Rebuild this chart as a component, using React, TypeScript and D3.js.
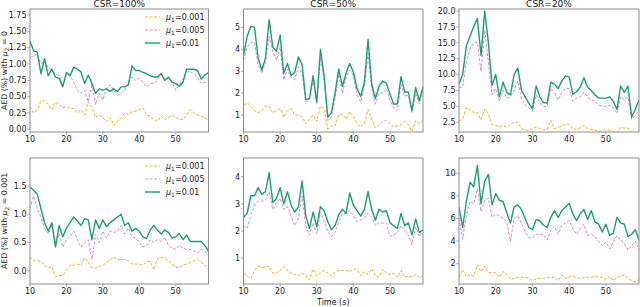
import * as d3 from "d3";

// time axis (s)
const times = [10, 11, 12, 13, 14, 15, 16, 17, 18, 19, 20, 21, 22, 23, 24, 25, 26, 27, 28, 29,
  30, 31, 32, 33, 34, 35, 36, 37, 38, 39, 40, 41, 42, 43, 44, 45, 46, 47, 48, 49,
  50, 51, 52, 53, 54, 55, 56, 57, 58, 59];

const titles = ["CSR=100%", "CSR=50%", "CSR=20%"];
const mu1Labels = ["0.001", "0.005", "0.01"];
const mu2Labels = ["0", "0.001"];
const xTicks = [10, 20, 30, 40, 50];

// row 1: mu2 = 0
const r0c0_001 = [0.35,0.25,0.3,0.43,0.44,0.38,0.3,0.42,0.38,0.33, 0.35,0.32,0.32,0.25,0.3,0.22,0.42,0.33,0.18,0.22, 0.18,0.12,0.18,0.06,0.12,0.18,0.25,0.23,0.27,0.28, 0.3,0.33,0.22,0.2,0.15,0.12,0.2,0.15,0.18,0.22, 0.18,0.15,0.15,0.22,0.3,0.25,0.22,0.2,0.17,0.15];
const r0c0_005 = [1.1,1.12,1.15,1.0,1.05,0.95,0.9,0.85,0.82,0.67, 0.85,0.82,0.72,0.6,0.55,0.6,0.42,0.7,0.38,0.55, 0.45,0.62,0.68,0.6,0.52,0.55,0.6,0.72,0.8,0.75, 0.78,0.72,0.65,0.7,0.7,0.75,0.87,0.75,0.78,0.72, 0.6,0.68,0.78,0.88,0.88,0.85,0.8,0.7,0.72,0.72];
const r0c0_01 = [1.35,1.2,1.18,0.85,1.08,0.82,0.92,0.8,0.78,0.65, 0.87,0.82,0.95,0.92,0.88,0.7,0.83,0.7,0.55,0.62, 0.6,0.62,0.58,0.62,0.58,0.65,0.65,0.68,0.97,0.9, 0.9,0.87,0.85,0.82,0.8,0.8,0.85,0.75,0.8,0.72, 0.7,0.66,0.72,0.92,0.92,0.92,0.9,0.77,0.83,0.87];

const r0c1_001 = [1.45,1.55,1.4,1.2,1.1,1.2,1.4,1.4,1.1,1.2, 1.3,0.9,1.2,1.3,1.0,1.0,0.9,0.6,0.8,1.0, 0.7,1.4,1.3,0.35,0.5,0.5,1.0,1.05,0.8,1.15, 0.9,0.6,0.45,0.6,1.25,0.8,0.4,0.55,0.7,0.75, 0.6,0.45,0.5,0.55,0.7,0.55,0.25,0.75,0.6,0.75];
const r0c1_005 = [3.5,4.1,4.3,4.3,3.3,2.9,3.4,4.6,3.9,3.5, 4.1,2.6,3.1,2.7,2.6,3.2,2.9,1.6,1.7,2.6, 1.5,3.6,2.6,0.75,0.9,1.8,2.85,2.0,2.7,3.05, 2.8,1.9,1.6,2.3,3.8,2.2,1.5,2.0,2.0,2.2, 1.7,1.3,1.2,2.4,1.85,1.9,1.1,2.0,1.5,2.1];
const r0c1_01 = [3.7,4.6,5.05,5.0,3.6,3.05,3.6,5.35,4.1,3.9, 4.65,2.9,3.35,2.8,2.95,3.65,3.3,1.7,1.75,2.8, 1.6,4.0,2.8,0.9,1.1,2.0,3.1,2.3,2.9,3.35, 2.95,2.2,1.85,2.5,4.45,2.4,1.75,2.3,2.55,2.45, 1.95,1.5,1.5,2.75,2.05,2.05,1.2,2.25,1.65,2.3];

const r0c2_001 = [2.7,3,4.8,4.5,4,4,2.9,4.6,3.8,2.1, 2.0,1.8,2.0,1.7,2.2,2.5,2.5,1.5,1.3,1.2, 1.5,1.8,1.5,1.3,1.4,2.8,1.5,1.7,1.9,2.2, 2.2,1.5,1.4,1.6,2.0,1.5,1.4,1.2,1.1,1.1, 1.3,1.3,1.0,0.8,1.7,1.6,1.6,0.9,0.7,1.2];
const r0c2_005 = [8,8,12,14,15,15,10.5,17,12,6.8, 7.8,5.8,7.5,6.3,6.5,7.5,9,6.2,5.2,4.8, 4.2,6.8,5.5,5,5,7.8,7.2,6,7.2,7.8, 7.8,5.8,6.3,6.5,7.2,6.5,6.0,5.8,5.2,5.0, 5.0,5.2,4.8,3.9,6.5,6.0,6.5,3.0,3.5,4.5];
const r0c2_01 = [8.5,10,14.5,16,17.5,18.8,13,20,15,8.3, 10,6.5,8.8,7.2,6.8,10,11,7.5,6.5,5.5, 4.6,8.2,6.5,5.6,5.5,8.8,8.5,7.8,9,9.8, 9.6,6.9,7.3,8,9.5,8,7.5,6.8,6.3,6.3, 6.3,6.5,5.8,4.5,8.2,7.2,8.2,3.3,4.5,6.0];

// row 2: mu2 = 0.001
const r1c0_001 = [0.25,0.18,0.18,0.17,0.1,0.05,0.08,-0.1,-0.08,-0.08, 0.0,0.1,0.1,0.12,0.1,0.23,0.15,0.05,0.05,0.08, 0.1,0.15,0.2,0.24,0.2,0.2,0.2,0.18,0.12,0.12, 0.12,0.1,0.16,0.17,0.02,0.22,0.24,0.22,0.18,0.12, 0.06,0.06,0.1,0.12,0.15,0.18,0.2,0.15,0.1,0.03];
const r1c0_005 = [1.1,1.32,1.1,0.95,0.75,0.65,0.8,0.48,0.65,0.42, 0.55,0.6,0.7,0.55,0.42,0.5,0.55,0.2,0.65,0.5, 0.7,0.58,0.7,0.68,0.7,0.8,0.65,0.75,0.6,0.58, 0.5,0.42,0.45,0.55,0.5,0.55,0.52,0.6,0.45,0.4, 0.38,0.45,0.4,0.38,0.38,0.35,0.32,0.38,0.35,0.27];
const r1c0_01 = [1.48,1.42,1.35,1.1,0.85,0.7,0.85,0.42,0.8,0.6, 0.75,0.85,0.95,0.88,0.8,0.92,0.9,0.55,0.9,0.75, 0.9,0.78,0.85,0.9,0.95,1.0,0.8,0.85,0.7,0.75, 0.7,0.6,0.57,0.72,0.8,0.72,0.65,0.72,0.68,0.58, 0.6,0.66,0.55,0.63,0.52,0.52,0.52,0.52,0.45,0.35];

const r1c1_001 = [0.45,0.35,0.25,0.55,0.7,0.65,0.7,0.7,0.45,0.45, 0.55,0.7,0.55,0.45,0.4,0.35,0.45,0.35,0.2,0.6, 0.35,0.45,0.55,0.45,0.35,0.5,0.55,0.55,0.55,0.5, 0.6,0.6,0.35,0.5,0.4,0.6,0.35,0.3,0.6,0.45, 0.4,0.45,0.3,0.55,0.3,0.35,0.3,0.4,0.3,0.35];
const r1c1_005 = [2.2,2.1,2.6,2.95,3.1,3.1,3.15,3.45,2.8,3.05, 3.2,2.8,2.9,2.55,2.2,2.5,3.3,2.2,1.85,2.3, 1.9,2.7,2.35,2.0,1.8,1.95,2.35,2.65,2.65,2.75, 2.55,2.35,2.4,2.5,2.65,2.5,2.2,2.3,2.3,2.3, 1.8,1.85,1.95,2.2,2.0,1.85,1.5,2.15,1.8,2.0];
const r1c1_01 = [2.5,2.65,3.3,3.3,3.6,3.35,3.45,4.15,3.05,3.2, 3.6,3.0,3.45,2.95,2.7,2.9,3.85,2.55,2.1,2.7, 2.15,2.9,2.75,2.35,2.05,2.2,2.6,2.8,2.65,3.4, 2.95,2.75,2.55,2.8,3.45,2.8,2.4,2.8,2.7,2.75, 2.3,2.2,2.1,2.65,2.2,2.3,1.85,2.45,1.95,2.05];

const r1c2_001 = [0.8,1.5,0.8,1.0,0.9,1.9,1.3,1.8,1.2,1.2, 1.2,0.8,1.3,1.1,0.6,0.7,0.8,0.8,0.8,0.7, 0.5,0.65,0.7,0.7,0.8,0.75,0.8,0.5,1.0,0.7, 0.8,0.9,0.75,0.7,0.75,0.8,0.8,0.9,0.8,0.8, 0.6,0.9,0.5,0.8,0.9,1.0,0.7,0.5,0.4,0.6];
const r1c2_005 = [6.0,4.2,6.3,7.5,7.3,8.6,6.6,7.6,7.8,6.1, 6.4,6.2,6.0,5.7,4.0,6.0,6.2,5.6,4.8,4.3, 4.3,4.6,4.6,4.6,4.1,5.0,5.3,4.6,5.4,5.6, 5.8,5.1,4.6,5.1,5.5,4.5,4.6,4.4,4.0,3.6, 3.9,3.3,3.9,4.5,4.1,3.8,3.2,3.6,4.0,3.2];
const r1c2_01 = [7.0,5.2,7.5,9.2,8.8,10.7,7.3,9.3,9.9,7.2, 8.2,7.6,7.5,6.5,5.6,7.0,7.2,6.8,6.0,5.2, 5.0,5.9,5.8,5.4,5.2,6.1,6.7,6.1,6.7,7.0, 7.35,6.4,5.8,6.4,6.8,5.9,6.7,5.7,5.5,4.8, 5.5,4.5,4.7,6.1,5.6,5.5,4.4,4.6,5.0,4.1];

const yTicks = [
  [[0, 0.25, 0.5, 0.75, 1.0, 1.25, 1.5, 1.75], [1, 2, 3, 4, 5], [2.5, 5, 7.5, 10, 12.5, 15, 17.5, 20]],
  [[0, 0.5, 1.0, 1.5], [1, 2, 3, 4], [2, 4, 6, 8, 10]],
];
const yFormats = [[".2f", "d", ".1f"], [".1f", "d", "d"]];
const yDomains = [
  [[-0.04, 1.84], [0.22, 5.84], [0.97, 20.3]],
  [[-0.23, 1.99], [0.05, 4.69], [0.2, 11.35]],
];
const series = [
  [[r0c0_001, r0c0_005, r0c0_01], [r0c1_001, r0c1_005, r0c1_01], [r0c2_001, r0c2_005, r0c2_01]],
  [[r1c0_001, r1c0_005, r1c0_01], [r1c1_001, r1c1_005, r1c1_01], [r1c2_001, r1c2_005, r1c2_01]],
];

const colors = ["#f2b134", "#df8ac2", "#1b9e77"];
const dashes = ["3,1.6", "3,1.6", null];
const widths = [1, 1, 1.4];

const colLeft = [30, 243.5, 459];
const colWidth = [178.5, 179.5, 180];
const rowTop = [9, 158];
const rowBottom = [132, 284];
const font = "DejaVu Sans, sans-serif";
const spine = "#8c8c8c";

function Panel({ r, c }: { r: number; c: number }) {
  const plotW = colWidth[c];
  const x = d3.scaleLinear().domain([10, 59]).range([colLeft[c], colLeft[c] + plotW]);
  const y = d3.scaleLinear().domain(yDomains[r][c]).range([rowBottom[r], rowTop[r]]);
  const fmt = d3.format(yFormats[r][c]);
  const line = d3.line<number>().x((_, i) => x(times[i])).y((v) => y(v));
  const top = rowTop[r], bot = rowBottom[r], left = colLeft[c], right = colLeft[c] + plotW;
  return (
    <g>
      <defs>
        <clipPath id={`clip${r}${c}`}>
          <rect x={left} y={top} width={plotW} height={bot - top} />
        </clipPath>
      </defs>
      <g clipPath={`url(#clip${r}${c})`}>
        {series[r][c].map((s, k) => (
          <path key={k} d={line(s) || ""} fill="none" stroke={colors[k]} strokeWidth={widths[k]}
            strokeDasharray={dashes[k] || undefined} strokeLinejoin="round" />
        ))}
      </g>
      <rect x={left} y={top} width={plotW} height={bot - top} fill="none" stroke={spine} strokeWidth={1} />
      {yTicks[r][c].map((t) => (
        <g key={t}>
          <line x1={left - 2.5} x2={left} y1={y(t)} y2={y(t)} stroke={spine} strokeWidth={0.8} />
          <text x={left - 3.5} y={y(t)} dy="0.35em" textAnchor="end" fontSize={8} fontFamily={font} fill="#222">{fmt(t)}</text>
        </g>
      ))}
      {xTicks.map((t) => (
        <g key={t}>
          <line x1={x(t)} x2={x(t)} y1={bot} y2={bot + 2.5} stroke={spine} strokeWidth={0.8} />
          <text x={x(t)} y={bot + 9.8} textAnchor="middle" fontSize={8} fontFamily={font} fill="#222">{t}</text>
        </g>
      ))}
      {r === 0 && (
        <text x={(left + right) / 2} y={7} textAnchor="middle" fontSize={9} fontFamily={font} fill="#222">{titles[c]}</text>
      )}
      {c === 0 && (
        <text transform={`translate(7.3,${(top + bot) / 2}) rotate(-90)`} textAnchor="middle" fontSize={7.8} fontFamily={font} fill="#222">
          AED (%) with <tspan fontStyle="italic">μ</tspan><tspan fontSize={5.8} dy={1.8}>2</tspan><tspan dy={-1.8}> = {mu2Labels[r]}</tspan>
        </text>
      )}
      {c === 0 && mu1Labels.map((m, k) => {
        const ly = top + 8 + k * 13;
        return (
          <g key={m}>
            <line x1={145} x2={160} y1={ly} y2={ly} stroke={colors[k]} strokeWidth={widths[k]} strokeDasharray={dashes[k] || undefined} />
            <text x={166} y={ly} dy="0.35em" fontSize={8} fontFamily={font} fill="#222">
              <tspan fontStyle="italic">μ</tspan><tspan fontSize={6} dy={2}>1</tspan><tspan dy={-2}>={m}</tspan>
            </text>
          </g>
        );
      })}
    </g>
  );
}

export default function App() {
  return (
    <svg width={640} height={307} style={{ position: "absolute", left: 0, top: 0, background: "#fff" }}>
      {[0, 1].map((r) => [0, 1, 2].map((c) => <Panel key={`${r}${c}`} r={r} c={c} />))}
      <text x={colLeft[1] + colWidth[1] / 2} y={305} textAnchor="middle" fontSize={8} fontFamily={font} fill="#222">Time (s)</text>
    </svg>
  );
}
